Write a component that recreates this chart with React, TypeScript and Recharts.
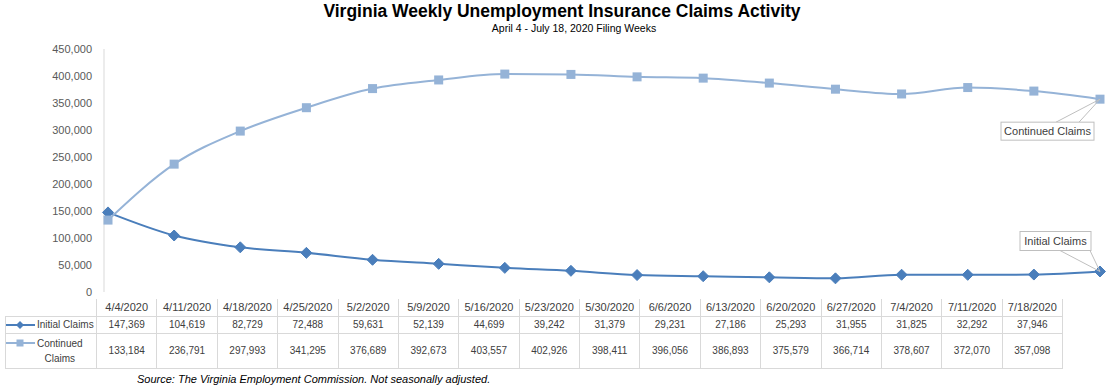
import { LineChart, Line, XAxis, YAxis } from "recharts";

// === Data ===
const weeks = [
  "4/4/2020", "4/11/2020", "4/18/2020", "4/25/2020", "5/2/2020", "5/9/2020",
  "5/16/2020", "5/23/2020", "5/30/2020", "6/6/2020", "6/13/2020", "6/20/2020",
  "6/27/2020", "7/4/2020", "7/11/2020", "7/18/2020",
];

const initialClaims = [
  147369, 104619, 82729, 72488, 59631, 52139, 44699, 39242,
  31379, 29231, 27186, 25293, 31955, 31825, 32292, 37946,
];

const continuedClaims = [
  133184, 236791, 297993, 341295, 376689, 392673, 403557, 402926,
  398411, 396056, 386893, 375579, 366714, 378607, 372070, 357098,
];

const yTicks = [0, 50000, 100000, 150000, 200000, 250000, 300000, 350000, 400000, 450000];

const INITIAL = "#4a7ebb";
const CONTINUED = "#95b3d7";
const GRID = "#d9d9d9";
const FONT = "'Liberation Sans', Arial, sans-serif";

const rows = weeks.map((w, i) => ({
  week: w,
  initial: initialClaims[i],
  continued: continuedClaims[i],
}));

const fmt = (v: number) => v.toLocaleString("en-US");

const Diamond = (props: any) => {
  const { cx, cy } = props;
  if (cx == null || cy == null) return null;
  const r = 5.5;
  return (
    <polygon
      points={`${cx},${cy - r} ${cx + r},${cy} ${cx},${cy + r} ${cx - r},${cy}`}
      fill={INITIAL}
      stroke={INITIAL}
    />
  );
};

const Square = (props: any) => {
  const { cx, cy } = props;
  if (cx == null || cy == null) return null;
  const r = 4.5;
  return <rect x={cx - r} y={cy - r} width={r * 2} height={r * 2} fill={CONTINUED} />;
};

// callout box for the last point
const callout = (text: string, bx: number, by: number, bw: number, bh: number, ax1: number, ax2: number, ay: number) =>
  (props: any) => {
    const { x, y, index } = props;
    if (index !== weeks.length - 1) return null;
    return (
      <g>
        <line x1={x + ax1} y1={y + ay} x2={x} y2={y} stroke="#bfbfbf" />
        <line x1={x + ax2} y1={y + ay} x2={x} y2={y} stroke="#bfbfbf" />
        <rect x={x + bx} y={y + by} width={bw} height={bh} fill="#fff" stroke="#bfbfbf" />
        <text
          x={x + bx + bw / 2}
          y={y + by + bh / 2 + 4}
          textAnchor="middle"
          fontSize={11}
          fontFamily={FONT}
          fill="#404040"
        >
          {text}
        </text>
      </g>
    );
  };

const cell: React.CSSProperties = {
  border: `1px solid ${GRID}`,
  textAlign: "center",
  padding: 0,
};

export default function App() {
  return (
    <div style={{ position: "absolute", left: 0, top: 0, width: 1113, height: 387, background: "#fff", fontFamily: FONT }}>
      <div style={{ position: "absolute", left: 262, width: 600, top: 1, textAlign: "center", fontSize: 17.5, fontWeight: "bold", color: "#000" }}>
        Virginia Weekly Unemployment Insurance Claims Activity
      </div>
      <div style={{ position: "absolute", left: 374, width: 400, top: 22, textAlign: "center", fontSize: 10.5, color: "#000", fontFamily: "'Liberation Sans Narrow', 'Liberation Sans', Arial, sans-serif" }}>
        April 4 - July 18, 2020 Filing Weeks
      </div>

      <div style={{ position: "absolute", left: 0, top: 0 }}>
        <LineChart width={1113} height={300} data={rows} margin={{ top: 49, right: 9, bottom: 8, left: 44 }}>
          <XAxis dataKey="week" hide padding={{ left: 4, right: 4 }} />
          <YAxis
            width={60}
            domain={[0, 450000]}
            ticks={yTicks}
            tickFormatter={fmt}
            tickLine={false}
            tickMargin={6}
            axisLine={{ stroke: GRID }}
            tick={{ fontSize: 11, fill: "#595959", fontFamily: FONT }}
            interval={0}
          />
          <Line
            type="monotone"
            dataKey="initial"
            stroke={INITIAL}
            strokeWidth={2}
            dot={<Diamond />}
            activeDot={false}
            isAnimationActive={false}
            label={callout("Initial Claims", -80, -40, 71, 19, -40, -10, -21)}
          />
          <Line
            type="monotone"
            dataKey="continued"
            stroke={CONTINUED}
            strokeWidth={2}
            dot={<Square />}
            activeDot={false}
            isAnimationActive={false}
            label={callout("Continued Claims", -99, 23, 93, 18, -44, -21, 23)}
          />
        </LineChart>
      </div>

      <table
        style={{
          position: "absolute",
          left: 5,
          top: 299,
          borderCollapse: "collapse",
          tableLayout: "fixed",
          width: 1057,
          fontSize: 10,
          color: "#404040",
          fontFamily: FONT,
        }}
      >
        <colgroup>
          <col style={{ width: 91 }} />
          {weeks.map((w) => (
            <col key={w} style={{ width: 60.375 }} />
          ))}
        </colgroup>
        <tbody>
          <tr style={{ height: 17 }}>
            <td style={{ padding: 0 }} />
            {weeks.map((w) => (
              <td key={w} style={{ ...cell, borderTop: "none", fontSize: 11 }}>{w}</td>
            ))}
          </tr>
          <tr style={{ height: 17 }}>
            <td style={{ ...cell, textAlign: "left", whiteSpace: "nowrap" }}>
              <svg width={29} height={10} style={{ verticalAlign: "middle" }}>
                <line x1={0} y1={5} x2={29} y2={5} stroke={INITIAL} strokeWidth={2} />
                <polygon points="14,1 18,5 14,9 10,5" fill={INITIAL} />
              </svg>
              <span style={{ marginLeft: 2 }}>Initial Claims</span>
            </td>
            {initialClaims.map((v, i) => (
              <td key={i} style={cell}>{fmt(v)}</td>
            ))}
          </tr>
          <tr style={{ height: 35 }}>
            <td style={{ ...cell, textAlign: "left" }}>
              <div style={{ display: "flex", alignItems: "flex-start" }}>
                <svg width={29} height={14} style={{ flex: "none" }}>
                  <line x1={0} y1={7} x2={29} y2={7} stroke={CONTINUED} strokeWidth={2} />
                  <rect x={10.5} y={3.5} width={7} height={7} fill={CONTINUED} />
                </svg>
                <div style={{ textAlign: "center", lineHeight: "15px", marginLeft: 2 }}>
                  Continued
                  <br />
                  Claims
                </div>
              </div>
            </td>
            {continuedClaims.map((v, i) => (
              <td key={i} style={cell}>{fmt(v)}</td>
            ))}
          </tr>
        </tbody>
      </table>

      <div style={{ position: "absolute", left: 137, top: 373, fontSize: 11, fontStyle: "italic", color: "#000" }}>
        Source: The Virginia Employment Commission. Not seasonally adjusted.
      </div>
    </div>
  );
}
